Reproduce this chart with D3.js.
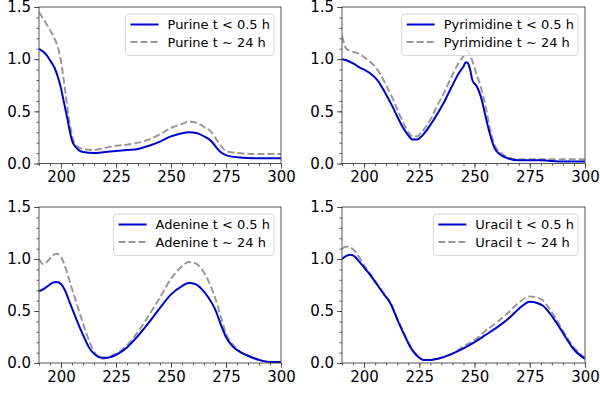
<!DOCTYPE html>
<html>
<head>
<meta charset="utf-8">
<script src="https://cdn.jsdelivr.net/npm/d3@7"></script>
<style>
  body { margin: 0; background: #fff; }
  text { font-family: "DejaVu Sans", sans-serif; fill: #000; }
</style>
</head>
<body>
<div id="chart"></div>
<script>
// wavelength grids (nm) and absorbance values
const purineWl    = [190,193,195,197,199,200,201,202,203,204,205,207,210,215,220,225,230,235,240,245,250,255,258,262,265,268,270,272,275,280,290,300];
const purineEarly = [1.10,1.05,0.99,0.92,0.80,0.72,0.62,0.52,0.42,0.31,0.22,0.15,0.11,0.10,0.11,0.12,0.13,0.14,0.17,0.21,0.26,0.29,0.30,0.29,0.26,0.22,0.17,0.12,0.08,0.06,0.05,0.05];
const purineLate  = [1.45,1.35,1.28,1.20,1.08,0.98,0.84,0.68,0.52,0.38,0.27,0.17,0.14,0.13,0.15,0.17,0.18,0.20,0.23,0.28,0.34,0.38,0.40,0.39,0.35,0.31,0.25,0.19,0.12,0.10,0.09,0.09];

const pyrimWl    = [190,192,195,198,200,203,206,210,213,215,218,220,222,224,226,230,233,236,240,243,245,246,247,248,249,251,253,255,257,259,262,265,270,280,290,300];
const pyrimEarly = [1.00,0.99,0.96,0.92,0.90,0.86,0.80,0.66,0.54,0.45,0.33,0.27,0.23,0.23,0.26,0.37,0.47,0.58,0.75,0.87,0.93,0.97,0.96,0.90,0.80,0.74,0.63,0.45,0.28,0.15,0.08,0.05,0.03,0.03,0.02,0.02];
const pyrimLate  = [1.22,1.10,1.07,1.05,1.02,0.97,0.90,0.75,0.62,0.52,0.38,0.30,0.26,0.26,0.30,0.42,0.55,0.67,0.85,0.97,1.03,1.06,1.08,1.04,0.98,0.85,0.72,0.55,0.33,0.18,0.10,0.06,0.04,0.04,0.04,0.04];

const adenineWl    = [190,192,194,196,198,200,202,204,207,210,213,215,217,219,221,223,226,230,235,240,245,250,255,258,261,264,267,270,273,275,278,282,285,290,295,300];
const adenineEarly = [0.69,0.71,0.74,0.77,0.78,0.76,0.69,0.58,0.42,0.27,0.14,0.09,0.06,0.05,0.05,0.06,0.09,0.15,0.26,0.39,0.53,0.66,0.74,0.77,0.76,0.71,0.63,0.52,0.35,0.25,0.16,0.10,0.07,0.03,0.01,0.01];
const adenineLate  = [1.00,0.95,0.98,1.03,1.05,1.02,0.92,0.78,0.58,0.38,0.20,0.11,0.06,0.04,0.05,0.07,0.10,0.17,0.30,0.46,0.63,0.81,0.93,0.97,0.96,0.90,0.79,0.63,0.42,0.28,0.18,0.10,0.07,0.03,0.01,0.01];

const uracilWl    = [190,192,194,196,198,200,203,206,209,212,215,218,221,224,227,230,235,240,245,250,255,260,265,270,275,278,281,284,287,290,295,300];
const uracilEarly = [1.00,1.03,1.04,1.02,0.97,0.92,0.84,0.75,0.66,0.57,0.42,0.28,0.15,0.07,0.03,0.03,0.05,0.09,0.14,0.20,0.27,0.34,0.42,0.52,0.59,0.58,0.55,0.48,0.39,0.29,0.13,0.04];
const uracilLate  = [1.10,1.12,1.11,1.07,1.01,0.94,0.85,0.76,0.67,0.58,0.43,0.29,0.16,0.07,0.03,0.03,0.05,0.09,0.16,0.22,0.31,0.39,0.48,0.58,0.64,0.63,0.60,0.52,0.42,0.31,0.15,0.05];

const names = ['Purine', 'Pyrimidine', 'Adenine', 'Uracil'];
const xTicks = [200, 225, 250, 275, 300];
const yTicks = [0.0, 0.5, 1.0, 1.5];

const panels = [
  { name: names[0], wl: purineWl,  early: purineEarly,  late: purineLate },
  { name: names[1], wl: pyrimWl,   early: pyrimEarly,   late: pyrimLate },
  { name: names[2], wl: adenineWl, early: adenineEarly, late: adenineLate },
  { name: names[3], wl: uracilWl,  early: uracilEarly,  late: uracilLate }
];

const W = 600, H = 396;
// axes boxes in pixels
const boxes = [
  { left: 39,  top: 7,   w: 242, h: 156.5 },
  { left: 342, top: 7,   w: 243, h: 156.5 },
  { left: 39,  top: 207, w: 242, h: 156 },
  { left: 342, top: 207, w: 243, h: 156 }
];

const blue = '#0000cd';
const grey = '#999999';

const svg = d3.select('#chart').append('svg')
    .attr('width', W)
    .attr('height', H);

panels.forEach((p, i) => {
  const b = boxes[i];
  const g = svg.append('g').attr('transform', 'translate(' + b.left + ',' + b.top + ')');

  const x = d3.scaleLinear().domain([190, 300]).range([0, b.w]);
  const y = d3.scaleLinear().domain([0, 1.5]).range([b.h, 0]);

  // minor ticks
  g.append('g')
      .attr('transform', 'translate(0,' + b.h + ')')
      .call(d3.axisBottom(x).tickValues(d3.range(190, 301, 5)).tickSize(2.5).tickFormat(''))
      .call(a => a.select('.domain').remove());
  g.append('g')
      .call(d3.axisLeft(y).tickValues(d3.range(0, 16).map(v => v / 10)).tickSize(2.5).tickFormat(''))
      .call(a => a.select('.domain').remove());

  // major ticks
  const xa = g.append('g')
      .attr('transform', 'translate(0,' + b.h + ')')
      .call(d3.axisBottom(x).tickValues(xTicks).tickSize(5).tickPadding(3).tickFormat(d3.format('d')));
  xa.select('.domain').remove();
  xa.selectAll('text').style('font-size', '15px');

  const ya = g.append('g')
      .call(d3.axisLeft(y).tickValues(yTicks).tickSize(5).tickPadding(3).tickFormat(d3.format('.1f')));
  ya.select('.domain').remove();
  ya.selectAll('text').style('font-size', '15px');

  g.selectAll('.tick line').attr('stroke', '#333').attr('stroke-width', 0.8);

  const line = d3.line()
      .x((d, k) => x(p.wl[k]))
      .y(d => y(d))
      .curve(d3.curveMonotoneX);

  g.append('clipPath').attr('id', 'clip' + i)
    .append('rect').attr('width', b.w).attr('height', b.h);

  const lines = g.append('g').attr('clip-path', 'url(#clip' + i + ')');
  lines.append('path')
      .datum(p.late)
      .attr('d', line)
      .attr('fill', 'none')
      .attr('stroke', grey)
      .attr('stroke-width', 2)
      .attr('stroke-dasharray', '7,3');
  lines.append('path')
      .datum(p.early)
      .attr('d', line)
      .attr('fill', 'none')
      .attr('stroke', blue)
      .attr('stroke-width', 2);

  // frame
  g.append('rect')
      .attr('width', b.w)
      .attr('height', b.h)
      .attr('fill', 'none')
      .attr('stroke', '#444')
      .attr('stroke-width', 0.9);

  // legend
  const labels = [p.name + ' t < 0.5 h', p.name + ' t ~ 24 h'];
  const leg = g.append('g');
  const box = leg.append('rect')
      .attr('rx', 3).attr('ry', 3)
      .attr('fill', '#fff').attr('fill-opacity', 0.8)
      .attr('stroke', '#d6d6d6').attr('stroke-width', 1);
  let maxW = 0;
  labels.forEach((t, k) => {
    const cy = 10.5 + k * 17.6;
    leg.append('line')
        .attr('x1', 5).attr('x2', 33)
        .attr('y1', cy).attr('y2', cy)
        .attr('stroke', k === 0 ? blue : grey)
        .attr('stroke-width', 2)
        .attr('stroke-dasharray', k === 0 ? null : '7,3');
    const tx = leg.append('text')
        .attr('x', 42).attr('y', cy)
        .attr('dy', '0.36em')
        .style('font-size', '13px')
        .text(t);
    maxW = Math.max(maxW, tx.node().getComputedTextLength());
  });
  const lw = 42 + maxW + 4;
  box.attr('width', lw).attr('height', 41.5);
  leg.attr('transform', 'translate(' + (b.w - 7 - lw) + ',7)');
});
</script>
</body>
</html>
